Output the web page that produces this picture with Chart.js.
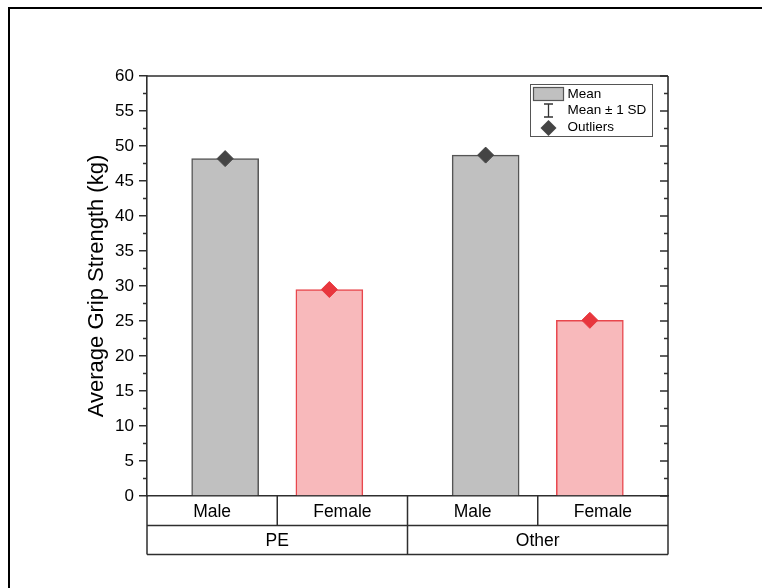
<!DOCTYPE html>
<html><head><meta charset="utf-8">
<script src="https://cdn.jsdelivr.net/npm/chart.js@4.4.0/dist/chart.umd.min.js"></script>
<style>html,body{margin:0;padding:0;background:#fff}#wrap{width:762px;height:588px;position:relative}</style>
</head><body><div id="wrap"><canvas id="c" width="762" height="588"></canvas></div>
<script>
// ---- data ----
const groups = ['PE', 'Other'];
const sexes = ['Male', 'Female', 'Male', 'Female'];
const barX = [0.6, 1.4, 2.6, 3.4];            // bar centres in axis units (4 category boxes span 0..4)
const meanValues = [48.2, 29.5, 48.7, 25.1];
const outlierValues = [48.2, 29.5, 48.7, 25.1];
const yMin = 0, yMax = 60, yStep = 5;
const legendLabels = ['Mean', 'Mean \u00b1 1 SD', 'Outliers'];

// ---- styles ----
const FONT = '"Liberation Sans", Arial, sans-serif';
const AXIS = '#2e2e2e';
const barFill = ['#c0c0c0', '#f8b9bb', '#c0c0c0', '#f8b9bb'];
const barEdge = ['#555555', '#e8474d', '#555555', '#e8474d'];
const dotColor = ['#444444', '#e8363d', '#444444', '#e8363d'];

const decor = {
  id: 'decor',
  afterDraw(chart) {
    const ctx = chart.ctx, ca = chart.chartArea;
    const xs = chart.scales.x, ys = chart.scales.y;
    ctx.save();
    ctx.strokeStyle = AXIS; ctx.lineWidth = 1.6;
    // top and right frame of plot
    ctx.beginPath();
    ctx.moveTo(ca.left, ca.top); ctx.lineTo(ca.right, ca.top);
    ctx.moveTo(ca.right, ca.top); ctx.lineTo(ca.right, ca.bottom);
    ctx.stroke();
    // minor ticks (left outward, right inward) and right major ticks
    ctx.lineWidth = 1.5;
    ctx.beginPath();
    for (let v = yMin + yStep / 2; v < yMax; v += yStep) {
      const y = ys.getPixelForValue(v);
      ctx.moveTo(ca.left - 4, y); ctx.lineTo(ca.left, y);
      ctx.moveTo(ca.right - 4, y); ctx.lineTo(ca.right, y);
    }
    for (let v = yMin; v <= yMax; v += yStep) {
      const y = ys.getPixelForValue(v);
      ctx.moveTo(ca.right - 8, y); ctx.lineTo(ca.right, y);
    }
    ctx.stroke();
    // category boxes
    const r0 = ca.bottom, r1 = ca.bottom + 29.5, r2 = ca.bottom + 58.5;
    ctx.beginPath();
    ctx.moveTo(ca.left, r1); ctx.lineTo(ca.right, r1);
    ctx.moveTo(ca.left, r2); ctx.lineTo(ca.right, r2);
    for (let i = 0; i <= sexes.length; i++) {
      const x = xs.getPixelForValue(i);
      const full = (i % 2 === 0);
      ctx.moveTo(x, r0); ctx.lineTo(x, full ? r2 : r1);
    }
    ctx.stroke();
    ctx.fillStyle = '#000';
    ctx.font = '17.5px ' + FONT;
    ctx.textAlign = 'center'; ctx.textBaseline = 'middle';
    sexes.forEach((s, i) => {
      ctx.fillText(s, (xs.getPixelForValue(i) + xs.getPixelForValue(i + 1)) / 2, (r0 + r1) / 2 + 1);
    });
    groups.forEach((g, i) => {
      ctx.fillText(g, (xs.getPixelForValue(2 * i) + xs.getPixelForValue(2 * i + 2)) / 2, (r1 + r2) / 2 + 1);
    });
    // legend
    const lx = 530.5, ly = 84.5;
    ctx.lineWidth = 1; ctx.strokeStyle = '#555';
    ctx.strokeRect(lx, ly, 122, 52);
    ctx.fillStyle = '#c0c0c0';
    ctx.fillRect(lx + 3, ly + 3, 30, 13);
    ctx.strokeStyle = '#555'; ctx.lineWidth = 1.2;
    ctx.strokeRect(lx + 3, ly + 3, 30, 13);
    const sx = lx + 18;
    ctx.strokeStyle = '#333'; ctx.lineWidth = 1.3;
    ctx.beginPath();
    ctx.moveTo(sx, ly + 19.5); ctx.lineTo(sx, ly + 32.5);
    ctx.moveTo(sx - 4.5, ly + 19.5); ctx.lineTo(sx + 4.5, ly + 19.5);
    ctx.moveTo(sx - 4.5, ly + 32.5); ctx.lineTo(sx + 4.5, ly + 32.5);
    ctx.stroke();
    ctx.fillStyle = '#444';
    ctx.beginPath();
    const dy = ly + 43.5;
    ctx.moveTo(sx, dy - 8); ctx.lineTo(sx + 8, dy); ctx.lineTo(sx, dy + 8); ctx.lineTo(sx - 8, dy);
    ctx.closePath(); ctx.fill();
    ctx.fillStyle = '#000';
    ctx.font = '13.5px ' + FONT;
    ctx.textAlign = 'left'; ctx.textBaseline = 'middle';
    ctx.fillText(legendLabels[0], lx + 37, ly + 9.5);
    ctx.fillText(legendLabels[1], lx + 37, ly + 26);
    ctx.fillText(legendLabels[2], lx + 37, ly + 43);
    // outer frame (top and left)
    ctx.fillStyle = '#000';
    ctx.fillRect(8, 7, chart.width - 8, 2);
    ctx.fillRect(8, 7, 2, chart.height - 7);
    ctx.restore();
  }
};

new Chart(document.getElementById('c'), {
  type: 'bar',
  data: {
    datasets: [
      {
        type: 'line', label: 'Outliers', showLine: false, order: 0,
        data: barX.map((x, i) => ({ x: x, y: outlierValues[i] })),
        pointStyle: 'rectRot', pointRadius: 8, pointHoverRadius: 8,
        pointBackgroundColor: dotColor, pointBorderColor: dotColor, pointBorderWidth: 1
      },
      {
        type: 'bar', label: 'Mean', order: 1,
        data: barX.map((x, i) => ({ x: x, y: meanValues[i] })),
        backgroundColor: barFill, borderColor: barEdge, borderWidth: 1.5,
        barThickness: 67
      }
    ]
  },
  options: {
    responsive: false, animation: false, devicePixelRatio: 1,
    layout: { padding: { left: 0, top: 76, right: 94, bottom: 0 } },
    plugins: { legend: { display: false }, tooltip: { enabled: false } },
    scales: {
      x: {
        type: 'linear', min: 0, max: 4, offset: false,
        ticks: { display: false },
        grid: { display: false },
        border: { display: true, color: AXIS, width: 1.6 },
        afterFit(s) { s.height = 92; }
      },
      y: {
        min: yMin, max: yMax,
        ticks: { stepSize: yStep, color: '#000', font: { family: FONT, size: 17 }, padding: 5 },
        grid: { drawOnChartArea: false, drawTicks: true, tickLength: 8, color: AXIS, lineWidth: 1.5 },
        border: { display: true, color: AXIS, width: 1.6 },
        title: { display: true, text: 'Average Grip Strength (kg)', color: '#000',
                 font: { family: FONT, size: 22 }, padding: { top: 84, bottom: 0 } },
        afterFit(s) { s.width = 147; }
      }
    }
  },
  plugins: [decor]
});
</script>
</body></html>
